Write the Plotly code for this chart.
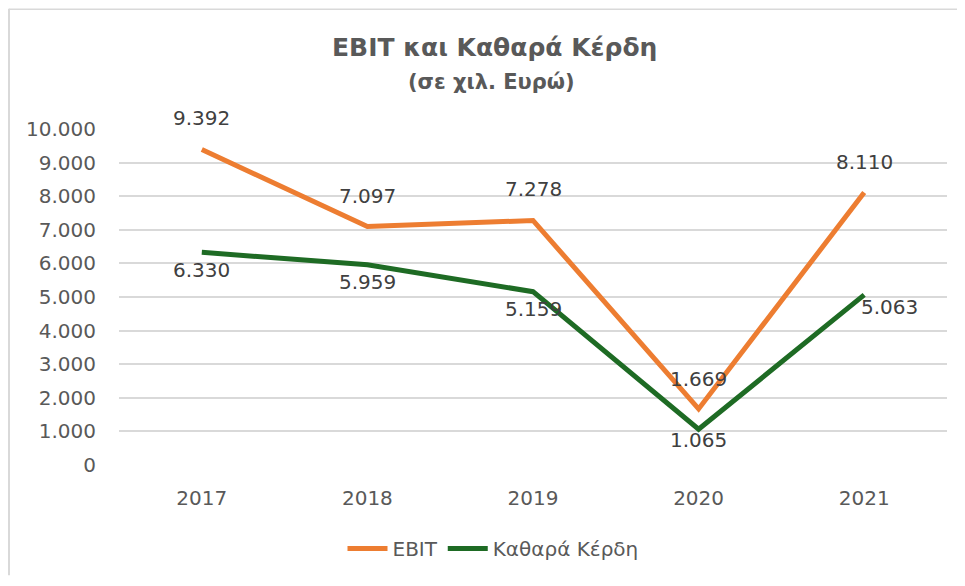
import plotly.graph_objects as go

years = ["2017", "2018", "2019", "2020", "2021"]
ebit = [9392, 7097, 7278, 1669, 8110]
net_profit = [6330, 5959, 5159, 1065, 5063]
ytick_vals = [0, 1000, 2000, 3000, 4000, 5000, 6000, 7000, 8000, 9000, 10000]
ytick_text = ["0", "1.000", "2.000", "3.000", "4.000", "5.000", "6.000", "7.000", "8.000", "9.000", "10.000"]

ORANGE = "#ED7D31"
GREEN = "#1E6B24"
FONT = "DejaVu Sans"
FS = 20

# label offsets (style)
ebit_shift = [(0, 31), (0, 31), (0, 31), (0, 30), (0, 31)]
net_shift = [(0, -18), (0, -17), (0, -17), (0, -11), (25, -12)]

# page has an 8px body margin; size the figure to fit inside the window
OFF = 8
W, H = 965 - 2 * OFF, 586 - 2 * OFF
L, T = 119 - OFF, 129 - OFF
R = W - (947 - OFF)
B = H - (467 - OFF)
pw, ph = W - L - R, H - T - B

def px_x(sx):
    return (sx - OFF - L) / pw

def px_y(sy):
    return (H - B - (sy - OFF)) / ph

def fmt(v):
    return f"{v:,}".replace(",", ".")

fig = go.Figure()
fig.add_trace(go.Scatter(x=years, y=ebit, mode="lines", name="EBIT",
                         line=dict(color=ORANGE, width=5)))
fig.add_trace(go.Scatter(x=years, y=net_profit, mode="lines", name="Καθαρά Κέρδη",
                         line=dict(color=GREEN, width=5)))

annotations = []
for i, (v, (dx, dy)) in enumerate(zip(ebit, ebit_shift)):
    annotations.append(dict(x=i, y=v, xref="x", yref="y", text=fmt(v), showarrow=False,
                            xshift=dx, yshift=dy,
                            font=dict(family=FONT, size=FS, color="#404040")))
for i, (v, (dx, dy)) in enumerate(zip(net_profit, net_shift)):
    annotations.append(dict(x=i, y=v, xref="x", yref="y", text=fmt(v), showarrow=False,
                            xshift=dx, yshift=dy,
                            font=dict(family=FONT, size=FS, color="#404040")))

annotations.append(dict(xref="paper", yref="paper", x=px_x(494), y=px_y(47),
                        text="<b>EBIT και Καθαρά Κέρδη</b>", showarrow=False,
                        xanchor="center", yanchor="middle",
                        font=dict(family=FONT, size=25, color="#595959")))
annotations.append(dict(xref="paper", yref="paper", x=px_x(491), y=px_y(82),
                        text="<b>(σε χιλ. Ευρώ)</b>", showarrow=False,
                        xanchor="center", yanchor="middle",
                        font=dict(family=FONT, size=21, color="#595959")))

fig.update_layout(
    width=W, height=H,
    margin=dict(l=L, r=R, t=T, b=B),
    paper_bgcolor="white", plot_bgcolor="white",
    font=dict(family=FONT, size=FS, color="#595959"),
    annotations=annotations,
    showlegend=True,
    legend=dict(orientation="h", x=px_x(493), y=px_y(551), xanchor="center", yanchor="middle",
                font=dict(family=FONT, size=FS, color="#595959"), itemwidth=40),
    shapes=[
        dict(type="line", xref="paper", yref="paper",
             x0=(1 - L) / pw, x1=(1 - L) / pw, y0=-B / ph, y1=(H - B) / ph,
             line=dict(color="#D9D9D9", width=2), layer="below"),
        dict(type="line", xref="paper", yref="paper",
             x0=(1 - L) / pw, x1=(W - L) / pw, y0=(H - B - 0.5) / ph, y1=(H - B - 0.5) / ph,
             line=dict(color="#D9D9D9", width=1.5), layer="below"),
    ],
)
fig.update_xaxes(type="category", range=[-0.5, 4.5], showgrid=False, zeroline=False,
                 showline=False, ticks="", ticklabelstandoff=19,
                 tickfont=dict(family=FONT, size=FS, color="#595959"))
fig.update_yaxes(range=[0, 10000], tickvals=ytick_vals, ticktext=ytick_text,
                 showgrid=True, gridcolor="#D9D9D9", gridwidth=1.5, zeroline=False,
                 showline=False, ticks="", ticklabelstandoff=22,
                 tickfont=dict(family=FONT, size=FS, color="#595959"))

fig.write_html("out.html")
